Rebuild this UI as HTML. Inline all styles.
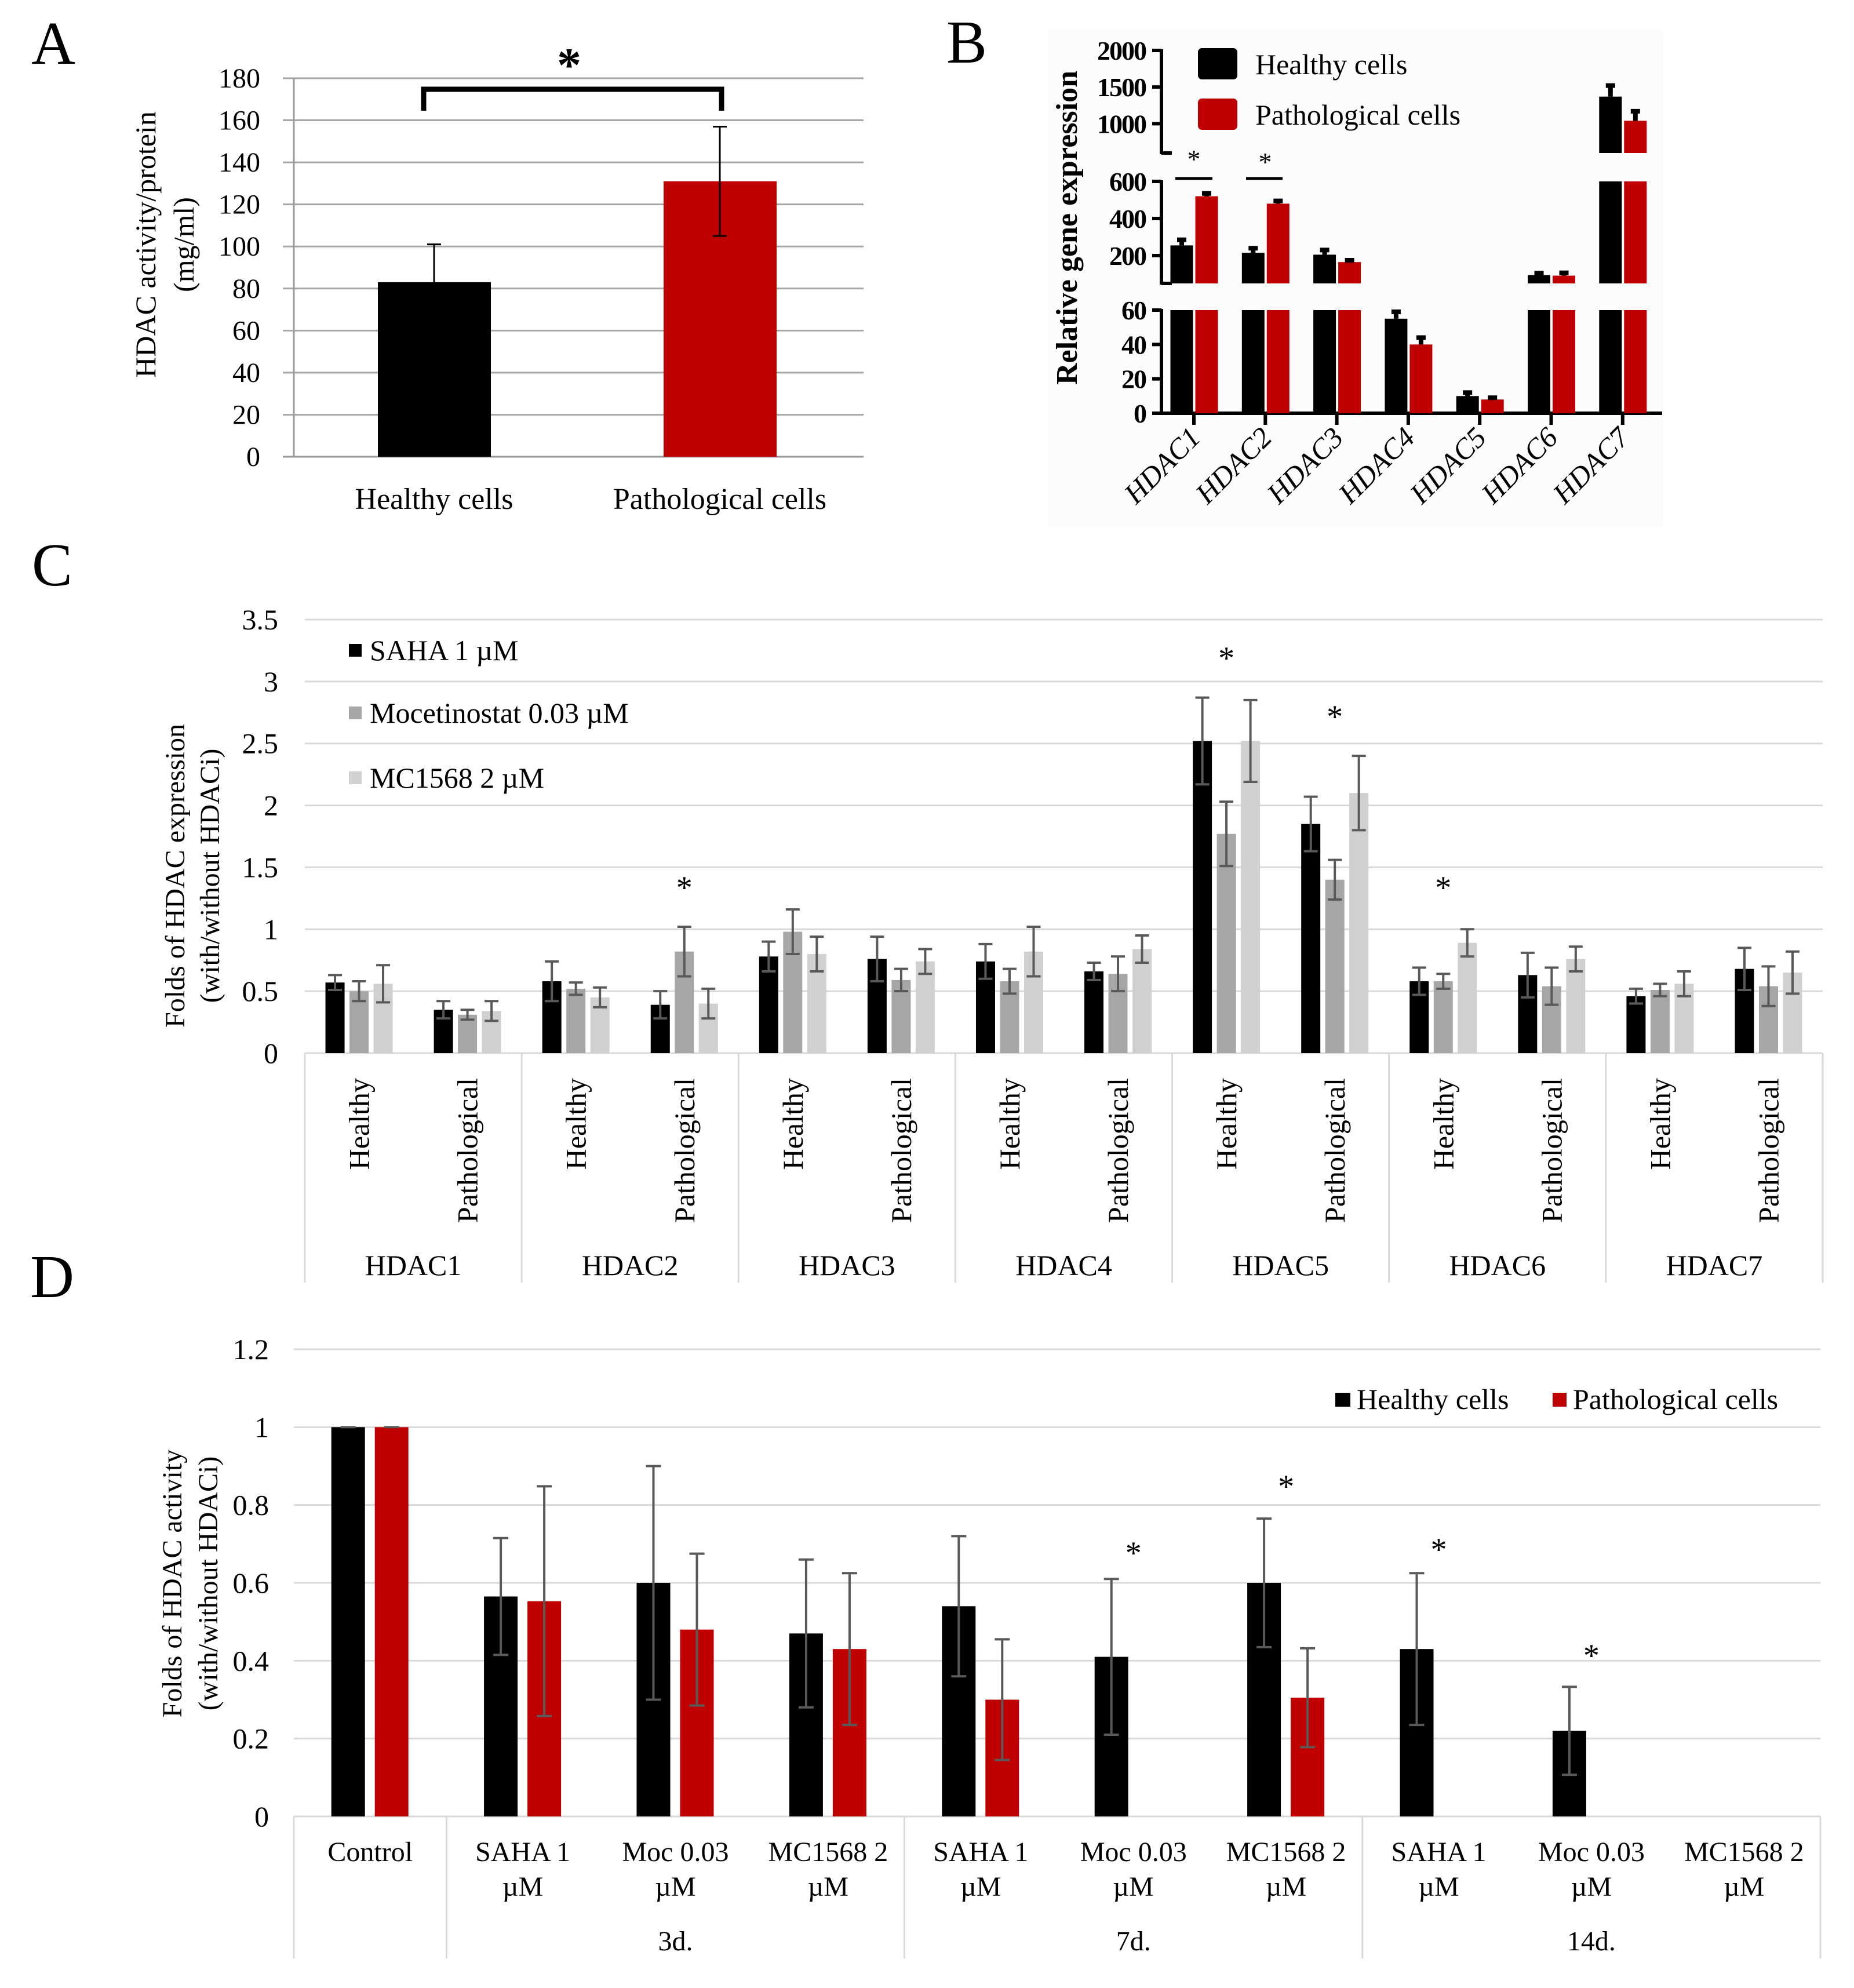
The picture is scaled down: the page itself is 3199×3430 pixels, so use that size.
<!DOCTYPE html>
<html><head><meta charset="utf-8">
<style>
html,body{margin:0;padding:0;background:#fff;}
svg{display:block;font-family:"Liberation Serif",serif;}
</style></head>
<body>
<svg id="fig" xmlns="http://www.w3.org/2000/svg" width="3199" height="3430" viewBox="0 0 3199 3430">
<rect x="0" y="0" width="3199" height="3430" fill="#fff"/>
<g id="pA"></g>
<g id="pB"></g>
<g id="pC"></g>
<g id="pD"></g>
</svg>
<script>
// ---------- Panel A data ----------
const aCategories = ["Healthy cells", "Pathological cells"];
const aValues = [83, 131];
const aErrors = [18, 26];
const aTicks = [0,20,40,60,80,100,120,140,160,180];
// ---------- Panel B data ----------
const bCategories = ["HDAC1","HDAC2","HDAC3","HDAC4","HDAC5","HDAC6","HDAC7"];
const bHealthy = [255, 215, 205, 55, 10, 95, 1370];
const bPatho = [520, 480, 165, 40, 8, 92, 1040];
const bHealthyErr = [30, 25, 25, 4, 2, 10, 150];
const bPathoErr = [15, 15, 10, 4, 1, 15, 130];
const bTicksTop = [1000, 1500, 2000];
const bTicksMid = [200, 400, 600];
const bTicksLow = [0, 20, 40, 60];
// ---------- Panel C data ----------
const cGroups = ["HDAC1","HDAC2","HDAC3","HDAC4","HDAC5","HDAC6","HDAC7"];
const cSub = ["Healthy","Pathological"];
const cSeriesNames = ["SAHA 1 µM","Mocetinostat 0.03  µM","MC1568  2 µM"];
const cSaha = [0.57,0.35, 0.58,0.39, 0.78,0.76, 0.74,0.66, 2.52,1.85, 0.58,0.63, 0.46,0.68];
const cSahaErr = [0.06,0.07, 0.16,0.11, 0.12,0.18, 0.14,0.07, 0.35,0.22, 0.11,0.18, 0.06,0.17];
const cMoc = [0.50,0.31, 0.52,0.82, 0.98,0.59, 0.58,0.64, 1.77,1.40, 0.58,0.54, 0.51,0.54];
const cMocErr = [0.08,0.04, 0.05,0.20, 0.18,0.09, 0.10,0.14, 0.26,0.16, 0.06,0.15, 0.05,0.16];
const cMc = [0.56,0.34, 0.45,0.40, 0.80,0.74, 0.82,0.84, 2.52,2.10, 0.89,0.76, 0.56,0.65];
const cMcErr = [0.15,0.08, 0.08,0.12, 0.14,0.10, 0.20,0.11, 0.33,0.30, 0.11,0.10, 0.10,0.17];
const cTicks = ["0","0.5","1","1.5","2","2.5","3","3.5"];
const cStars = [3, 8, 9, 10];
// ---------- Panel D data ----------
const dLine1 = ["Control","SAHA  1","Moc 0.03","MC1568 2","SAHA  1","Moc 0.03","MC1568 2","SAHA  1","Moc 0.03","MC1568 2"];
const dLine2 = ["","µM","µM","µM","µM","µM","µM","µM","µM","µM"];
const dGroupNames = ["3d.","7d.","14d."];
const dHealthy = [1, 0.565, 0.60, 0.47, 0.54, 0.41, 0.60, 0.43, 0.22, null];
const dHealthyErr = [0, 0.15, 0.30, 0.19, 0.18, 0.20, 0.165, 0.195, 0.113, null];
const dPatho = [1, 0.553, 0.48, 0.43, 0.30, null, 0.305, null, null, null];
const dPathoErr = [0, 0.295, 0.195, 0.195, 0.155, null, 0.127, null, null, null];
const dTicks = ["0","0.2","0.4","0.6","0.8","1","1.2"];
const dStars = [5, 6, 7, 8];

const NS = "http://www.w3.org/2000/svg";
function mk(parent, tag, attrs, text){
  const e = document.createElementNS(NS, tag);
  for (const k in attrs) e.setAttribute(k, attrs[k]);
  if (text !== undefined) e.textContent = text;
  parent.appendChild(e);
  return e;
}
function errBar(g, x, y1, y2, cap, color, w){
  const e = mk(g,"path",{d:`M${x},${y1}V${y2}M${x-cap},${y1}H${x+cap}M${x-cap},${y2}H${x+cap}`,stroke:color,"stroke-width":w,fill:"none"});
  
  
}

// ================= PANEL A =================
(function(){
  const g = document.getElementById("pA");
  const x0=500, x1=1490, yT=135, yB=788;
  const y = v => yB - v/180*(yB-yT);
  let t = mk(g,"text",{x:92,y:110,"font-size":105,"text-anchor":"middle"},"A");
   
  aTicks.forEach(v=>{
    const l = mk(g,"line",{x1:x0-12,x2:x1,y1:y(v),y2:y(v),stroke:v===0?"#9a9a9a":"#a6a6a6","stroke-width":3});
     
    const tx = mk(g,"text",{x:449,y:y(v)+16,"font-size":48,"text-anchor":"end"},String(v));
     
  });
  const ax = mk(g,"line",{x1:x0+7,x2:x0+7,y1:yT,y2:yB,stroke:"#9a9a9a","stroke-width":3});
   
  const colors=["#000","#c00000"];
  const centers=[749,1242];
  aValues.forEach((v,i)=>{
    const r = mk(g,"rect",{x:centers[i]-97,y:y(v),width:195,height:yB-y(v),fill:colors[i]});
     
    errBar(g, centers[i], y(v+aErrors[i]), y(v-aErrors[i]), 12, "#000", 3);
    const lb = mk(g,"text",{x:centers[i],y:878,"font-size":52,"text-anchor":"middle"},aCategories[i]);
     
  });
  const br = mk(g,"path",{d:"M731,191V154H1245V191",stroke:"#000","stroke-width":9,fill:"none"});
   
  const st = mk(g,"text",{x:982,y:140,"font-size":84,"font-weight":"bold","text-anchor":"middle"},"*");
   
  const yt = mk(g,"text",{transform:"translate(268,422) rotate(-90)","font-size":50,"text-anchor":"middle"},"HDAC activity/protein");
   
  const yt2 = mk(g,"text",{transform:"translate(334,422) rotate(-90)","font-size":50,"text-anchor":"middle"},"(mg/ml)");
   
})();

// ================= PANEL B =================
(function(){
  const g = document.getElementById("pB");
  const bg = mk(g,"rect",{x:1808,y:50,width:1062,height:860,fill:"#fcfcfc"});
   
  let t = mk(g,"text",{x:1668,y:108,"font-size":105,"text-anchor":"middle"},"B");
   
  const axX = 2004;
  const segTop={lo:600,hi:2000,yLo:264,yHi:87};
  const segMid={lo:50,hi:600,yLo:489,yHi:313};
  const segLow={lo:0,hi:60,yLo:713,yHi:535};
  const ys=(s,v)=>s.yLo-(v-s.lo)/(s.hi-s.lo)*(s.yLo-s.yHi);
  function yAny(v){
    if(v<=60) return ys(segLow,v);
    if(v<=600) return ys(segMid,Math.max(v,50));
    return ys(segTop,v);
  }
  [segTop,segMid,segLow].forEach(s=>{
    const a=mk(g,"line",{x1:axX,x2:axX,y1:s.yHi-2,y2:s.yLo+2,stroke:"#000","stroke-width":6});
     
  });
  const tk=(v,s)=>{
    const yy=ys(s,v);
    const l=mk(g,"line",{x1:axX-16,x2:axX,y1:yy,y2:yy,stroke:"#000","stroke-width":6});
     
    const tx=mk(g,"text",{x:1977,y:yy+16,"font-size":46,"font-weight":"bold","text-anchor":"end","letter-spacing":"-2"},String(v));
     
  };
  bTicksTop.forEach(v=>tk(v,segTop));
  bTicksMid.forEach(v=>tk(v,segMid));
  bTicksLow.forEach(v=>tk(v,segLow));
  [[264,axX,axX+18],[489,axX,axX+18],[535,axX-16,axX]].forEach(a=>{
    const l=mk(g,"line",{x1:a[1],x2:a[2],y1:a[0],y2:a[0],stroke:"#000","stroke-width":6});
     
  });
  const xl=mk(g,"line",{x1:1988,x2:2868,y1:713,y2:713,stroke:"#000","stroke-width":6});
   
  const tickX=i=>2060+i*123.3;
  function drawBar(cx,v,err,color,name){
    const segs=[segLow,segMid,segTop];
    segs.forEach(s=>{
      if(s===segMid && v<=60) return;
      if(s===segTop && v<=600) return;
      const top=ys(s,Math.min(v,s.hi)), bot=s.yLo;
      if(top>=bot) return;
      const r=mk(g,"rect",{x:cx-19.5,y:top,width:39,height:bot-top,fill:color});
       
    });
    const yv=yAny(v), ye=yAny(v+err);
    const e=mk(g,"path",{d:`M${cx},${yv}V${ye}M${cx-8},${ye}H${cx+8}`,stroke:"#000","stroke-width":8,fill:"none"});
     
  }
  bCategories.forEach((c,i)=>{
    const tx=tickX(i);
    drawBar(tx-21,bHealthy[i],bHealthyErr[i],"#000","bar-healthy-"+c.toLowerCase());
    drawBar(tx+22,bPatho[i],bPathoErr[i],"#c00000","bar-pathological-"+c.toLowerCase());
    const l=mk(g,"line",{x1:tx,x2:tx,y1:713,y2:733,stroke:"#000","stroke-width":6});
     
    const lb=mk(g,"text",{transform:`translate(${tx+14},${758}) rotate(-45)`,"font-size":50,"text-anchor":"end","font-style":"italic"},c);
     
  });
  [[2060,2028,2092,268],[2183,2150,2213,273]].forEach(s=>{
    const st=mk(g,"text",{x:s[0],y:s[3]+22,"font-size":46,"text-anchor":"middle"},"*");
     
    const l=mk(g,"line",{x1:s[1],x2:s[2],y1:308,y2:308,stroke:"#000","stroke-width":5});
     
  });
  const l1=mk(g,"rect",{x:2067,y:83,width:68,height:54,rx:7,fill:"#000"});
   
  const l2=mk(g,"rect",{x:2067,y:170,width:68,height:54,rx:7,fill:"#c00000"});
   
  const lt1=mk(g,"text",{x:2166,y:128,"font-size":50},"Healthy cells");
   
  const lt2=mk(g,"text",{x:2166,y:215,"font-size":50},"Pathological cells");
   
  const yt=mk(g,"text",{transform:"translate(1858,393) rotate(-90)","font-size":52,"font-weight":"bold","text-anchor":"middle"},"Relative gene expression");
   
})();

// ================= PANEL C =================
(function(){
  const g=document.getElementById("pC");
  let t=mk(g,"text",{x:90,y:1010,"font-size":105,"text-anchor":"middle"},"C");
   
  const x0=526,x1=3145,yB=1817,yT=1069;
  const y=v=>yB-v/3.5*(yB-yT);
  cTicks.forEach(s=>{
    const v=parseFloat(s);
    const l=mk(g,"line",{x1:x0,x2:x1,y1:y(v),y2:y(v),stroke:"#d9d9d9","stroke-width":3});
     
    const tx=mk(g,"text",{x:480,y:y(v)+17,"font-size":50,"text-anchor":"end"},s);
     
  });
  const gw=(x1-x0)/7, sw=gw/2;
  for(let i=0;i<=7;i++){
    const l=mk(g,"line",{x1:x0+i*gw,x2:x0+i*gw,y1:yB,y2:2213,stroke:"#d9d9d9","stroke-width":3});
     
  }
  const series=[[cSaha,cSahaErr,"#000"],[cMoc,cMocErr,"#a6a6a6"],[cMc,cMcErr,"#d0d0d0"]];
  for(let s=0;s<14;s++){
    const cx=x0+sw*(s+0.5);
    series.forEach((se,k)=>{
      const bx=cx+(k-1)*41.5, v=se[0][s], e=se[1][s];
      const r=mk(g,"rect",{x:bx-16.5,y:y(v),width:33,height:yB-y(v),fill:se[2]});
       
      errBar(g,bx,y(v+e),y(v-e),12,"#595959",4);
    });
    const lb=mk(g,"text",{transform:`translate(${cx+17},1860) rotate(-90)`,"font-size":50,"text-anchor":"end"},cSub[s%2]);
     
  }
  cGroups.forEach((c,i)=>{
    const lb=mk(g,"text",{x:x0+gw*(i+0.5),y:2200,"font-size":50,"text-anchor":"middle"},c);
     
  });
  const starY=[1522,1126,1227,1522];
  cStars.forEach((s,i)=>{
    const cx=x0+sw*(s+0.5);
    const st=mk(g,"text",{x:cx,y:starY[i]+28,"font-size":56,"text-anchor":"middle"},"*");
     
  });
  const lc=["#000","#a6a6a6","#d0d0d0"], ly=[1122,1230,1342];
  cSeriesNames.forEach((n,i)=>{
    const r=mk(g,"rect",{x:602,y:ly[i]-11,width:22,height:22,fill:lc[i]});
     
    const tx=mk(g,"text",{x:638,y:ly[i]+17,"font-size":50,"xml:space":"preserve"},n);
     
  });
  const y1=mk(g,"text",{transform:"translate(318,1511) rotate(-90)","font-size":48,"text-anchor":"middle"},"Folds of HDAC expression");
   
  const y2=mk(g,"text",{transform:"translate(378,1511) rotate(-90)","font-size":48,"text-anchor":"middle"},"(with/without HDACi)");
   
})();

// ================= PANEL D =================
(function(){
  const g=document.getElementById("pD");
  let t=mk(g,"text",{x:90,y:2238,"font-size":105,"text-anchor":"middle"},"D");
   
  const x0=507,x1=3141,yB=3134,yT=2328;
  const y=v=>yB-v/1.2*(yB-yT);
  dTicks.forEach(s=>{
    const v=parseFloat(s);
    const l=mk(g,"line",{x1:x0,x2:x1,y1:y(v),y2:y(v),stroke:"#d9d9d9","stroke-width":3});
     
    const tx=mk(g,"text",{x:464,y:y(v)+17,"font-size":50,"text-anchor":"end"},s);
     
  });
  const sw=(x1-x0)/10;
  [0,1,4,7,10].forEach(i=>{
    const l=mk(g,"line",{x1:x0+i*sw,x2:x0+i*sw,y1:yB,y2:3379,stroke:"#d9d9d9","stroke-width":3});
     
  });
  for(let s=0;s<10;s++){
    const cx=x0+sw*(s+0.5);
    if(dHealthy[s]!==null){
      const v=dHealthy[s], e=dHealthyErr[s], bx=cx-38;
      const r=mk(g,"rect",{x:bx-29,y:y(v),width:58,height:yB-y(v),fill:"#000"});
       
      errBar(g,bx,y(v+e),y(v-e),13,"#595959",4);
    }
    if(dPatho[s]!==null){
      const v=dPatho[s], e=dPathoErr[s], bx=cx+37;
      const r=mk(g,"rect",{x:bx-29,y:y(v),width:58,height:yB-y(v),fill:"#c00000"});
       
      errBar(g,bx,y(v+e),y(v-e),13,"#595959",4);
    }
    const l1=mk(g,"text",{x:cx,y:3211,"font-size":48,"text-anchor":"middle","xml:space":"preserve"},dLine1[s]);
     
    if(dLine2[s]){
      const l2=mk(g,"text",{x:cx,y:3271,"font-size":48,"text-anchor":"middle"},dLine2[s]);
       
    }
  }
  dGroupNames.forEach((n,i)=>{
    const lb=mk(g,"text",{x:x0+sw*(2.5+3*i),y:3365,"font-size":48,"text-anchor":"middle"},n);
     
  });
  const starY=[2670,2555,2664,2847];
  dStars.forEach((s,i)=>{
    const cx=x0+sw*(s+0.5);
    const st=mk(g,"text",{x:cx,y:starY[i]+28,"font-size":56,"text-anchor":"middle"},"*");
     
  });
  const r1=mk(g,"rect",{x:2304,y:2403,width:26,height:24,fill:"#000"});
   
  const t1=mk(g,"text",{x:2341,y:2431,"font-size":50},"Healthy cells");
   
  const r2=mk(g,"rect",{x:2679,y:2403,width:24,height:24,fill:"#c00000"});
   
  const t2=mk(g,"text",{x:2714,y:2431,"font-size":50},"Pathological cells");
   
  const y1=mk(g,"text",{transform:"translate(313,2732) rotate(-90)","font-size":48,"text-anchor":"middle"},"Folds of HDAC activity");
   
  const y2=mk(g,"text",{transform:"translate(375,2732) rotate(-90)","font-size":48,"text-anchor":"middle"},"(with/without HDACi)");
   
})();
</script>
</body></html>
